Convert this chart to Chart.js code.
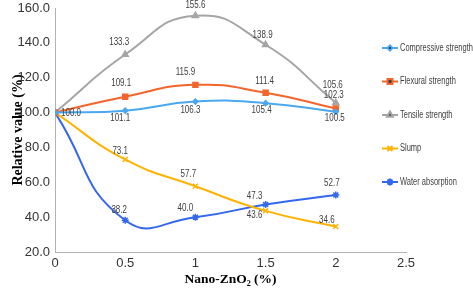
<!DOCTYPE html>
<html>
<head>
<meta charset="utf-8">
<script src="https://cdn.jsdelivr.net/npm/chart.js@4/dist/chart.umd.min.js"></script>
<style>
  body { margin: 0; background: #fff; }
  #wrap { width: 473px; height: 290px; }
</style>
</head>
<body>
<div id="wrap"><canvas id="relativo" width="473" height="290"></canvas></div>
<script>
// data
const dosis = [0, 0.5, 1, 1.5, 2];
const compresion = [100.0, 101.1, 106.3, 105.4, 100.5];
const flexion = [100, 109.1, 115.9, 111.4, 102.3];
const tension = [100, 133.3, 155.6, 138.9, 105.6];
const asentamiento = [100, 73.1, 57.7, 43.6, 34.6];
const absorcion = [100, 38.2, 40.0, 47.3, 52.7];
const xTicks = [0, 0.5, 1, 1.5, 2, 2.5];
const yTicks = [20, 40, 60, 80, 100, 120, 140, 160];

// where each value label sits relative to its point [dx, dy], null = no label
const offsets = [
    [[16, 1], [-5, 8], [-5, 9], [-4, 7], [-1, 7]],
    [null, [-4, -13], [-10, -13], [-1, -11], [-2, -13]],
    [null, [-6, -12], [0, -10], [-3, -10], [-3, -18]],
    [null, [-5, -8], [-7, -12], [-11, 4], [-9, -6]],
    [null, [-6, -10], [-10, -9], [-11, -8], [-4, -12]]
];

const series = [
    { label: 'Compressive strength', values: compresion, color: '#4aa8f0', point: 'rectRot', radius: 2.5 },
    { label: 'Flexural strength', values: flexion, color: '#f4652b', point: 'rect', radius: 3.5 },
    { label: 'Tensile strength', values: tension, color: '#a5a5a5', point: 'triangle', radius: 3.5 },
    { label: 'Slump', values: asentamiento, color: '#ffb300', point: 'crossRot', radius: 3.5 },
    { label: 'Water absorption', values: absorcion, color: '#3367ee', point: 'star', radius: 3.5 }
];

// text drawn a bit condensed, the original uses a narrow font
function narrowText(c, txt, x, y, k) {
    c.fillText(txt, x, y, c.measureText(txt).width * k);
}

const valueLabels = {
    id: 'valueLabels',
    afterDatasetsDraw(chart) {
        const c = chart.ctx;
        c.save();
        c.font = '10px "Liberation Sans", Arial';
        c.fillStyle = '#404040';
        c.textAlign = 'center';
        c.textBaseline = 'middle';
        chart.data.datasets.forEach((ds, i) => {
            chart.getDatasetMeta(i).data.forEach((pt, j) => {
                const off = offsets[i][j];
                if (!off) return;
                narrowText(c, ds.data[j].y.toFixed(1), pt.x + off[0], pt.y + off[1], 0.8);
            });
        });
        c.restore();
    }
};

const sideLegend = {
    id: 'sideLegend',
    afterDraw(chart) {
        const c = chart.ctx;
        c.save();
        c.font = '10px "Liberation Sans", Arial';
        c.textBaseline = 'middle';
        chart.data.datasets.forEach((ds, i) => {
            const y = 48 + i * 33.5;
            c.strokeStyle = ds.borderColor;
            c.lineWidth = 2;
            c.beginPath();
            c.moveTo(382, y);
            c.lineTo(398, y);
            c.stroke();
            Chart.helpers.drawPoint(c, {
                pointStyle: ds.pointStyle, radius: ds.pointRadius, borderWidth: 1.5
            }, 390, y);
            c.fillStyle = '#404040';
            narrowText(c, ds.label, 400, y, 0.75);
        });
        c.restore();
    }
};

new Chart(document.getElementById('relativo'), {
    type: 'line',
    data: {
        datasets: series.map(s => ({
            label: s.label,
            data: dosis.map((x, k) => ({ x: x, y: s.values[k] })),
            borderColor: s.color,
            backgroundColor: s.color,
            borderWidth: 2,
            tension: 0.5,
            pointStyle: s.point,
            pointRadius: s.radius,
            pointBorderWidth: 1.5,
            fill: false
        }))
    },
    options: {
        responsive: false,
        animation: false,
        layout: { padding: { left: 0, right: 67, top: 8, bottom: 0 } },
        plugins: {
            legend: { display: false },
            tooltip: { enabled: false }
        },
        scales: {
            x: {
                type: 'linear',
                min: 0,
                max: 2.5,
                afterBuildTicks: s => { s.ticks = xTicks.map(v => ({ value: v })); },
                afterFit: s => { s.height = 38; },
                grid: { display: false, drawTicks: false },
                border: { color: '#b3b3b3', width: 1 },
                ticks: {
                    padding: 4,
                    color: '#333',
                    font: { family: '"Liberation Sans", Arial', size: 13 },
                    callback: v => String(v)
                },
                title: {
                    display: true,
                    text: 'Nano-ZnO₂ (%)',
                    color: '#000',
                    padding: { top: 0, bottom: 2 },
                    font: { family: '"Liberation Serif", "Times New Roman", serif', size: 13.5, weight: 'bold' }
                }
            },
            y: {
                min: 20,
                max: 160,
                afterBuildTicks: s => { s.ticks = yTicks.map(v => ({ value: v })); },
                afterFit: s => { s.width = 55; s.paddingTop = 4; s.paddingBottom = 4; },
                grid: { display: false, drawTicks: false },
                border: { color: '#b3b3b3', width: 1 },
                ticks: {
                    padding: 5,
                    color: '#333',
                    font: { family: '"Liberation Sans", Arial', size: 13 },
                    callback: v => v.toFixed(1)
                },
                title: {
                    display: true,
                    text: 'Relative value (%)',
                    color: '#000',
                    padding: { top: 10, bottom: 0 },
                    font: { family: '"Liberation Serif", "Times New Roman", serif', size: 14, weight: 'bold' }
                }
            }
        }
    },
    plugins: [valueLabels, sideLegend]
});
</script>
</body>
</html>
